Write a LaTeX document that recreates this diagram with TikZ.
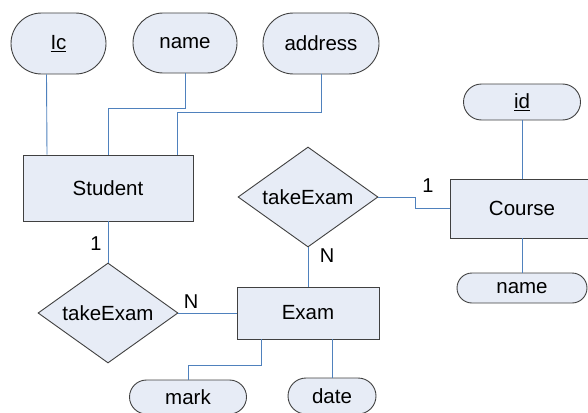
\documentclass[tikz,border=0pt]{standalone}
\usepackage{fontspec}
\setmainfont{Liberation Sans}
\usepackage{xcolor}
\usepackage{tikz}
\usetikzlibrary{shapes.geometric, shapes.misc, positioning, calc}
\definecolor{boxfill}{RGB}{231, 236, 246}
\definecolor{boxline}{RGB}{64, 64, 64}
\definecolor{linkblue}{RGB}{79, 129, 189}
\tikzset{
    entity/.style={
        draw=boxline, fill=boxfill, rectangle, inner sep=0pt, anchor=center
    },
    attrib/.style={
        draw=boxline, fill=boxfill, rounded rectangle, inner sep=0pt, anchor=center
    },
    relation/.style={
        draw=boxline, fill=boxfill, diamond, aspect=1.4, inner sep=0pt,
        minimum width=140pt, minimum height=100pt
    },
    link/.style={
        draw=linkblue, line width=0.9pt
    },
    card/.style={
        font=\fontsize{20}{24}\selectfont, inner sep=0pt
    }
}

\begin{document}
\begin{tikzpicture}[x=1pt, y=-1pt, line width=0.9pt,
        every node/.append style={font=\fontsize{20.5}{24}\selectfont}]

        \useasboundingbox (0,0) rectangle (588,412);
        \clip (0,0) rectangle (588,412);

        % ==========================================
        % STUDENT
        % ==========================================
        \node[entity, minimum width=170pt, minimum height=66pt] (student) at (108,188) {Student};
        \node[attrib, minimum width=95pt, minimum height=61pt] (ic) at (58.5,43.5) {\underline{Ic}};
        \node[attrib, minimum width=104pt, minimum height=60pt] (sname) at (185,43) {name};
        \node[attrib, minimum width=116pt, minimum height=61pt] (address) at (321,43.5) {address};

        \draw[link] ($(ic.south)+(-12,0)$) -- ($(student.north)+(-61,0)$);
        \draw[link] (sname.south) -- ++(0,35) -| (student.north);
        \draw[link] (address.south) -- ++(0,38) -| ($(student.north)+(69,0)$);

        % ==========================================
        % COURSE
        % ==========================================
        \node[entity, minimum width=144pt, minimum height=59pt] (course) at (522,208.5) {Course};
        \node[attrib, minimum width=117pt, minimum height=36pt] (cid) at (522,102) {\underline{id}};
        \node[attrib, minimum width=130pt, minimum height=30pt] (cname) at (522,288) {name};

        \draw[link] (cid.south) -- (course.north);
        \draw[link] (course.south) -- (cname.north);

        % ==========================================
        % EXAM
        % ==========================================
        \node[entity, minimum width=142pt, minimum height=52pt] (exam) at (308,313) {Exam};
        \node[attrib, minimum width=117pt, minimum height=34pt] (mark) at (188,397) {mark};
        \node[attrib, minimum width=88pt, minimum height=36pt] (date) at (332,396) {date};

        \draw[link] ($(exam.south)+(-47,0)$) -- ++(0,26) -| (mark.north);
        \draw[link] ($(exam.south)+(24,0)$) -- (date.north);

        % ==========================================
        % RELATIONSHIPS
        % ==========================================
        \node[relation] (takeleft) at (108,313) {takeExam};
        \node[relation] (takemid) at (308,197) {takeExam};

        \draw[link] (student.south) -- (takeleft.north);
        \draw[link] (takeleft.east) -- (exam.west);
        \draw[link] (takemid.south) -- (exam.north);
        \draw[link] (takemid.east) -- ++(37,0) |- (course.west);

        % Cardinality
        \node[card] (c1) at (96,244) {1};
        \node[card] (c2) at (191,302) {N};
        \node[card] (c3) at (327,256) {N};
        \node[card] (c4) at (428,186) {1};

    \end{tikzpicture}
\end{document}
